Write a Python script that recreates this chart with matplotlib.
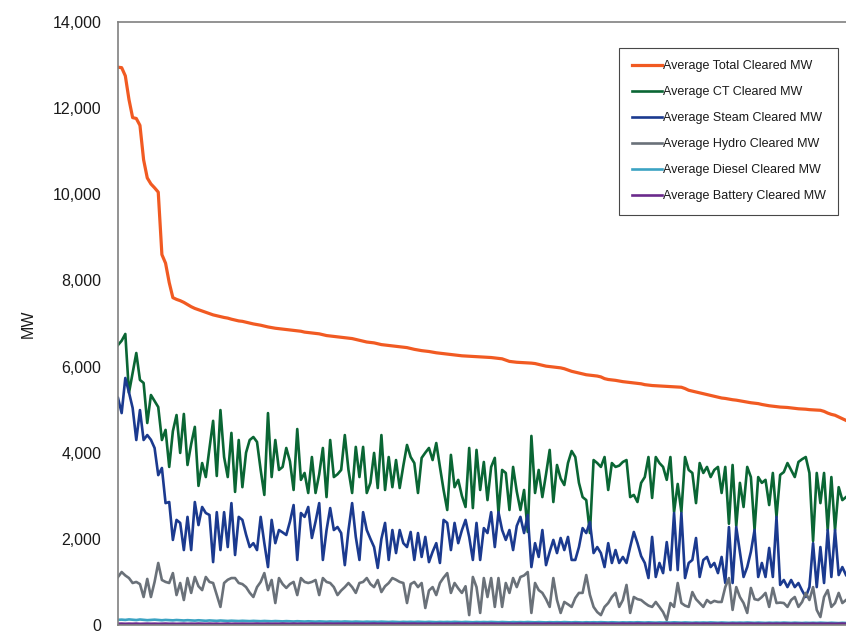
import matplotlib
matplotlib.use("Agg")
import matplotlib.pyplot as plt
from matplotlib.ticker import FuncFormatter

plt.rcParams['font.family'] = ['Liberation Sans', 'DejaVu Sans']

# Average cleared MW per day, days sorted by total cleared MW
total = [
    12950, 12940, 12750, 12200, 11780, 11760, 11600, 10800, 10380, 10240,
    10150, 10050, 8600, 8400, 7950, 7600, 7560, 7530, 7490, 7440,
    7390, 7350, 7320, 7290, 7260, 7230, 7200, 7180, 7160, 7140,
    7125, 7100, 7080, 7060, 7050, 7030, 7010, 6990, 6975, 6960,
    6940, 6920, 6905, 6890, 6880, 6870, 6860, 6850, 6840, 6830,
    6820, 6800, 6790, 6780, 6770, 6760, 6740, 6720, 6710, 6700,
    6690, 6680, 6670, 6660, 6650, 6630, 6610, 6590, 6570, 6560,
    6550, 6530, 6510, 6500, 6490, 6480, 6470, 6460, 6450, 6440,
    6420, 6400, 6385, 6370, 6360, 6350, 6335, 6320, 6310, 6300,
    6290, 6280, 6270, 6260, 6250, 6245, 6240, 6235, 6230, 6225,
    6220, 6215, 6210, 6200, 6190, 6180, 6150, 6120, 6110, 6100,
    6095, 6090, 6085, 6080, 6070, 6050, 6030, 6010, 6000, 5990,
    5980, 5970, 5950, 5920, 5890, 5870, 5850, 5830, 5810, 5800,
    5790, 5780, 5760, 5720, 5700, 5690, 5680, 5665, 5650, 5640,
    5630, 5620, 5610, 5600, 5580, 5570, 5560, 5555, 5550, 5545,
    5540, 5535, 5530, 5525, 5520, 5490, 5450, 5430, 5410, 5390,
    5370, 5350, 5330, 5310, 5290, 5270, 5260, 5245, 5230, 5220,
    5205, 5190, 5175, 5160, 5150, 5140, 5120, 5105, 5090, 5080,
    5070, 5060, 5055, 5050, 5040, 5030, 5020, 5015, 5010, 5000,
    4995, 4990, 4985, 4960, 4920, 4890, 4870, 4830, 4790, 4750,
]

ct = [
    6500, 6600, 6757, 5390, 5850, 6315, 5690, 5620, 4690, 5340,
    5200, 5060, 4295, 4530, 3670, 4500, 4875, 3995, 4900, 3715,
    4200, 4600, 3230, 3760, 3435, 4100, 4740, 3460, 4990, 3900,
    3435, 4460, 3090, 4295, 3200, 4000, 4295, 4365, 4250, 3600,
    3020, 4920, 3435, 4295, 3600, 3670, 4110, 3800, 3135, 4550,
    3370, 3530, 3065, 3900, 3065, 3500, 4110, 2970, 4295, 3435,
    3500, 3600, 4410, 3600, 3065, 4135, 3435, 4135, 3065, 3300,
    3995, 3180, 4410, 3135, 3900, 3200, 3830, 3180, 3700, 4180,
    3900, 3760, 3065, 3880, 4000, 4110, 3830, 4225, 3670, 3135,
    2670, 3950, 3200, 3370, 3000, 2740, 4110, 2715, 4065, 3135,
    3785, 2900, 3670, 3880, 2600, 3600, 3530, 2670, 3670, 3100,
    2670, 3135, 2160, 4390, 3065, 3600, 2970, 3500, 4065, 2855,
    3715, 3400, 3250, 3760, 4040, 3900, 3300, 2970, 2900, 2135,
    3830, 3760, 3670, 3900, 3135, 3760, 3670, 3700, 3785, 3830,
    2970, 3020, 2855, 3300, 3435, 3900, 2950, 3900, 3760, 3670,
    3370, 3900, 2620, 3275, 2620, 3900, 3600, 3530, 2830, 3760,
    3530, 3670, 3435, 3600, 3670, 3065, 3670, 2350, 3715, 2300,
    3300, 2740, 3670, 3435, 2205, 3435, 3300, 3370, 2785, 3530,
    2510, 3485, 3550, 3760, 3600, 3435, 3785, 3850, 3900, 3530,
    1950, 3530, 2830, 3530, 2205, 3435, 2205, 3200, 2900, 2970,
]

steam = [
    5270, 4920, 5735, 5400, 5040, 4295, 4990, 4295, 4410, 4300,
    4110, 3480, 3645, 2830, 2855, 1975, 2440, 2370, 1740, 2510,
    1740, 2855, 2320, 2740, 2600, 2555, 1460, 2620, 1740, 2620,
    1810, 2830, 1625, 2510, 2440, 2100, 1810, 1900, 1740, 2510,
    1900, 1345, 2440, 1900, 2205, 2150, 2090, 2400, 2785, 1510,
    2600, 2510, 2740, 2020, 2400, 2830, 1510, 2200, 2715, 2205,
    2275, 2135, 1390, 2200, 2830, 2045, 1510, 2620, 2205, 2000,
    1810, 1325, 2000, 2370, 1510, 2205, 1670, 2205, 1900, 1810,
    2160, 1510, 2135, 1580, 2045, 1460, 1700, 1900, 1440, 2440,
    2370, 1740, 2370, 1900, 2200, 2440, 2045, 1510, 2370, 1510,
    2250, 2135, 2620, 1810, 2620, 2205, 1975, 2205, 1740, 2300,
    2510, 2135, 2555, 1345, 1900, 1580, 2205, 1390, 1700, 1975,
    1670, 2020, 1740, 2045, 1510, 1510, 1810, 2250, 2135, 2390,
    1670, 1810, 1670, 1345, 1900, 1440, 1740, 1440, 1580, 1440,
    1810, 2160, 1900, 1600, 1440, 1090, 2045, 1115, 1440, 1205,
    1925, 1275, 2600, 1275, 2600, 1090, 1440, 1510, 2020, 1115,
    1510, 1580, 1345, 1440, 1205, 1580, 975, 2275, 975, 2275,
    1700, 1115, 1345, 1700, 2205, 1115, 1440, 1115, 1790, 1115,
    2510, 930, 1045, 880, 1045, 880, 975, 800, 650, 880,
    1900, 880, 1810, 975, 2205, 1115, 2205, 1160, 1345, 1160,
]

hydro = [
    1115, 1230, 1150, 1090, 975, 1000, 950, 650, 1070, 650,
    1000, 1440, 1045, 1000, 975, 1205, 695, 975, 580, 1090,
    745, 1115, 900, 810, 1115, 1000, 975, 700, 420, 975,
    1050, 1090, 1090, 975, 950, 880, 750, 650, 880, 1000,
    1205, 810, 1045, 510, 1090, 950, 860, 950, 1000, 695,
    1090, 1000, 975, 1000, 1045, 695, 1090, 1000, 975, 880,
    695, 800, 880, 975, 880, 745, 975, 1000, 1090, 950,
    880, 1045, 765, 900, 975, 1090, 1050, 1000, 975, 510,
    950, 1000, 880, 975, 395, 800, 880, 695, 975, 1100,
    1205, 745, 975, 850, 745, 900, 230, 1115, 880, 280,
    1090, 650, 1090, 420, 1090, 420, 975, 745, 1090, 880,
    1115, 1150, 1230, 280, 975, 810, 745, 600, 420, 1090,
    580, 280, 535, 480, 420, 625, 745, 745, 1160, 700,
    420, 300, 230, 420, 510, 650, 745, 420, 580, 930,
    280, 650, 600, 580, 510, 450, 420, 535, 420, 300,
    115, 510, 420, 975, 510, 450, 420, 765, 600, 510,
    420, 580, 510, 560, 535, 535, 880, 1090, 350, 880,
    650, 510, 280, 860, 600, 580, 650, 745, 420, 860,
    510, 520, 510, 420, 580, 650, 420, 535, 745, 580,
    880, 350, 185, 650, 810, 420, 510, 745, 510, 580,
]

diesel = [
    120, 125, 118, 130, 122, 115, 128, 120, 112, 118, 124, 116, 110, 118, 114, 108, 116, 110, 105, 112,
    108, 102, 110, 104, 98, 106, 100, 96, 104, 98, 94, 100, 96, 92, 98, 94, 90, 96, 92, 88,
    94, 90, 86, 92, 88, 84, 90, 86, 82, 88, 85, 80, 86, 82, 78, 84, 80, 76, 82, 78,
    80, 76, 82, 78, 74, 80, 76, 72, 78, 74, 76, 72, 78, 74, 70, 76, 72, 68, 74, 70,
    74, 70, 76, 72, 68, 74, 70, 66, 72, 68, 72, 68, 74, 70, 66, 72, 68, 64, 70, 66,
    70, 66, 72, 68, 64, 70, 66, 62, 68, 64, 68, 64, 70, 66, 62, 68, 64, 60, 66, 62,
    66, 62, 68, 64, 60, 66, 62, 58, 64, 60, 64, 60, 66, 62, 58, 64, 60, 56, 62, 58,
    62, 58, 64, 60, 56, 62, 58, 54, 60, 56, 60, 56, 62, 58, 54, 60, 56, 52, 58, 54,
    58, 54, 60, 56, 52, 58, 54, 50, 56, 52, 56, 52, 58, 54, 50, 56, 52, 48, 54, 50,
    54, 50, 56, 52, 48, 54, 50, 46, 52, 48, 52, 48, 54, 50, 46, 52, 48, 44, 50, 46,
]

battery = [
    30, 32, 28, 31, 29, 33, 27, 30, 32, 29, 31, 28, 30, 33, 29, 31, 27, 30, 32, 28,
    31, 29, 33, 30, 28, 32, 29, 31, 27, 30, 33, 28, 31, 29, 32, 30, 28, 31, 33, 29,
    30, 32, 28, 31, 29, 33, 30, 28, 32, 29, 31, 27, 30, 33, 29, 31, 28, 30, 32, 29,
    31, 29, 33, 30, 28, 32, 29, 31, 27, 30, 33, 28, 31, 29, 32, 30, 28, 31, 33, 29,
    30, 32, 28, 31, 29, 33, 27, 30, 32, 29, 31, 28, 30, 33, 29, 31, 27, 30, 32, 28,
    31, 29, 33, 30, 28, 32, 29, 31, 27, 30, 33, 28, 31, 29, 32, 30, 28, 31, 33, 29,
    30, 32, 28, 31, 29, 33, 30, 28, 32, 29, 31, 27, 30, 33, 29, 31, 28, 30, 32, 29,
    31, 29, 33, 30, 28, 32, 29, 31, 27, 30, 33, 28, 31, 29, 32, 30, 28, 31, 33, 29,
    30, 32, 28, 31, 29, 33, 27, 30, 32, 29, 31, 28, 30, 33, 29, 31, 27, 30, 32, 28,
    31, 29, 33, 30, 28, 32, 29, 31, 27, 30, 33, 28, 31, 29, 32, 30, 28, 31, 33, 29,
]

series = [
    ("Average Total Cleared MW", total, "#F15A22", 2.3),
    ("Average CT Cleared MW", ct, "#0A6634", 1.9),
    ("Average Steam Cleared MW", steam, "#1B3A8F", 1.9),
    ("Average Hydro Cleared MW", hydro, "#6A7179", 1.9),
    ("Average Diesel Cleared MW", diesel, "#3BA3C3", 1.9),
    ("Average Battery Cleared MW", battery, "#6B2A8C", 1.9),
]

fig = plt.figure(figsize=(8.46, 6.31), dpi=100)
ax = fig.add_axes([118 / 846, 1 - 625 / 631, 728 / 846, 603 / 631])

x = list(range(len(total)))
for name, vals, col, lw in series:
    ax.plot(x, vals, color=col, lw=lw, label=name, solid_joinstyle='round')

ax.set_xlim(0, len(total) - 1)
ax.set_ylim(0, 14000)
ax.set_yticks(range(0, 14001, 2000))
ax.yaxis.set_major_formatter(FuncFormatter(lambda v, p: f"{int(v):,}"))
ax.set_xticks([])
ax.tick_params(axis='y', length=0, pad=12, labelsize=11.5, labelcolor='#1a1a1a')
ax.set_ylabel("MW", fontsize=11.5, color='#1a1a1a', labelpad=12)

for side in ['left', 'top', 'bottom']:
    ax.spines[side].set_color('#808080')
    ax.spines[side].set_linewidth(1.2)
ax.spines['right'].set_visible(False)

leg = ax.legend(loc='upper right', bbox_to_anchor=(0.989, 0.957), borderaxespad=0,
                fontsize=9, frameon=True, fancybox=False, edgecolor='#1a1a1a',
                handlelength=2.4, handletextpad=0.05, labelspacing=1.12,
                borderpad=1.0)
leg.get_frame().set_linewidth(0.8)
for t in leg.get_texts():
    t.set_color('#1a1a1a')

fig.savefig("out.png", dpi=100)
